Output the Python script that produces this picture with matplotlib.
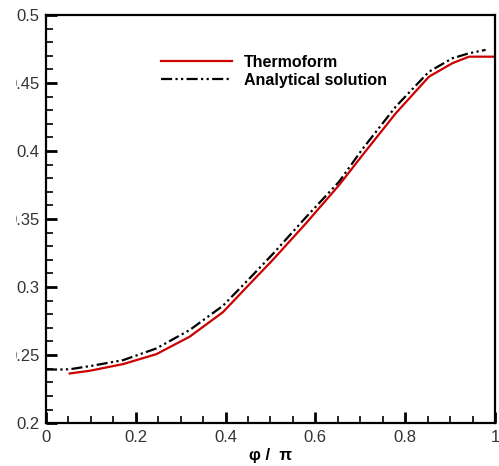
import matplotlib
matplotlib.use('Agg')
import matplotlib.pyplot as plt
from matplotlib.ticker import MultipleLocator, FormatStrFormatter
from matplotlib.transforms import Bbox, TransformedBbox

plt.rcParams['font.family'] = ['Liberation Sans', 'DejaVu Sans']

# Thermoform (numerical) result
x_thermo = [0.053, 0.098, 0.172, 0.246, 0.320, 0.394, 0.453, 0.505, 0.579,
            0.653, 0.705, 0.779, 0.853, 0.905, 0.942, 1.000]
y_thermo = [0.2365, 0.2385, 0.2434, 0.2507, 0.2635, 0.2815, 0.3020, 0.3199, 0.3468,
            0.3750, 0.3970, 0.4277, 0.4546, 0.4645, 0.4693, 0.4693]

# Analytical solution
x_anal = [0.0, 0.031, 0.053, 0.098, 0.172, 0.246, 0.320, 0.394, 0.453, 0.505,
          0.579, 0.653, 0.705, 0.779, 0.853, 0.905, 0.942, 0.979]
y_anal = [0.2394, 0.2394, 0.2396, 0.2419, 0.2463, 0.2549, 0.2684, 0.2862, 0.3062, 0.3242,
          0.3513, 0.3775, 0.4015, 0.4326, 0.4583, 0.4681, 0.4718, 0.4743]

fig = plt.figure(figsize=(4.99, 4.66), dpi=100)
ax = fig.add_axes([0.092, 0.092, 0.900, 0.876])

ax.plot(x_thermo, y_thermo, color='#cc0000', lw=1.6, label='Thermoform')
ax.plot(x_anal, y_anal, color='black', lw=1.6, dashes=(5, 1.5, 1, 1.5, 1, 1.5),
        label='Analytical solution')

ax.set_xlim(0, 1)
ax.set_ylim(0.2, 0.5)
ax.xaxis.set_major_locator(MultipleLocator(0.2))
ax.xaxis.set_minor_locator(MultipleLocator(0.05))
ax.yaxis.set_major_locator(MultipleLocator(0.05))
ax.yaxis.set_minor_locator(MultipleLocator(0.01))
ax.xaxis.set_major_formatter(FormatStrFormatter('%g'))
ax.yaxis.set_major_formatter(FormatStrFormatter('%g'))
ax.tick_params(which='both', direction='in', top=False, right=False,
               labelsize=12, labelcolor='#333333', width=1.2)
ax.tick_params(which='major', length=8, width=2)
ax.tick_params(which='minor', length=5)
ax.tick_params(axis='y', pad=4.5)
ax.tick_params(axis='x', pad=5)
for s in ax.spines.values():
    s.set_linewidth(1.6)

ax.set_xlabel('φ /  π', fontsize=12, fontweight='bold', labelpad=2)

leg = ax.legend(loc='upper left', bbox_to_anchor=(0.243, 0.918), frameon=False,
                handlelength=4.4, handletextpad=0.75, labelspacing=0.2,
                borderaxespad=0, prop={'weight': 'bold', 'size': 11.5})

# the left edge of the original picture cuts the wider y labels
fig.canvas.draw()
clip = TransformedBbox(Bbox([[16 / 499, 0], [1, 1]]), fig.transFigure)
for lbl in ax.get_yticklabels():
    lbl.set_clip_on(True)
    lbl.set_clip_box(clip)

fig.savefig('out.png', dpi=100)
